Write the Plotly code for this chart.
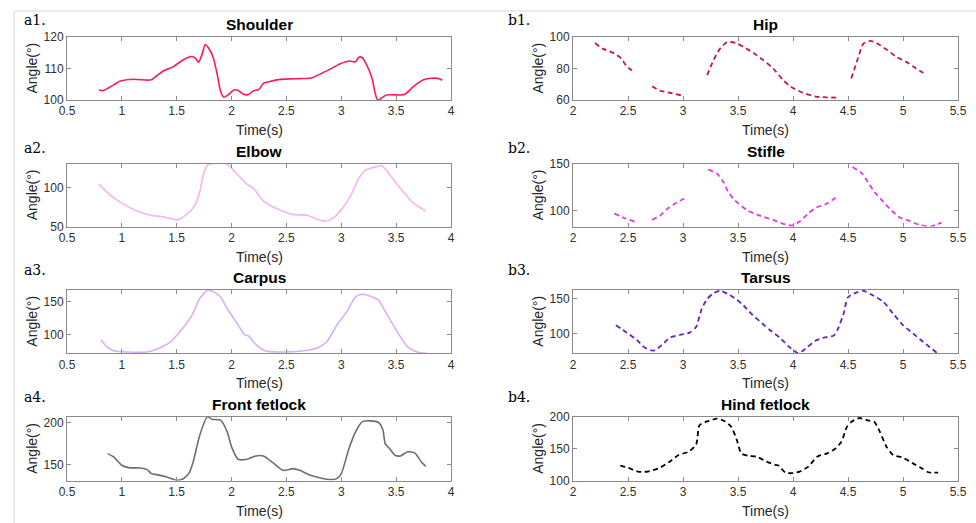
import plotly.graph_objects as go

W, H = 976, 523

# ---------------- data ----------------
t_shoulder = [0.79, 0.83, 0.925, 0.986, 1.107, 1.23, 1.27, 1.32, 1.38, 1.47, 1.56, 1.64, 1.67, 1.70,
              1.73, 1.76, 1.79, 1.83, 1.87, 1.90, 1.93, 1.97, 2.02, 2.06, 2.11, 2.15, 2.20, 2.25,
              2.29, 2.35, 2.41, 2.53, 2.62, 2.73, 2.81, 2.90, 2.99, 3.08, 3.13, 3.16, 3.19, 3.23,
              3.28, 3.31, 3.33, 3.35, 3.41, 3.54, 3.58, 3.66, 3.75, 3.82, 3.90, 3.92]
shoulder = [103.2, 103.0, 104.8, 106.0, 106.6, 106.3, 106.4, 107.7, 109.3, 110.6, 112.8, 113.8, 113.3, 112.0,
            114.4, 117.6, 116.5, 113.8, 108.0, 102.7, 100.9, 101.6, 103.2, 103.0, 101.8, 101.7, 102.9, 103.4,
            105.3, 105.9, 106.4, 106.7, 106.8, 107.0, 108.3, 109.8, 111.5, 112.4, 112.1, 113.6, 113.5, 111.2,
            106.9, 102.0, 100.0, 100.2, 101.6, 101.6, 101.8, 104.3, 106.4, 106.9, 106.7, 106.2]

t_elbow = [0.79, 0.895, 1.016, 1.14, 1.26, 1.38, 1.50, 1.55, 1.64, 1.68, 1.71, 1.75, 1.79, 1.87, 1.96,
           2.03, 2.14, 2.20, 2.29, 2.41, 2.56, 2.69, 2.76, 2.85, 2.91, 2.99, 3.08, 3.16, 3.22, 3.32,
           3.37, 3.44, 3.54, 3.66, 3.77]
elbow = [104.3, 90.2, 78.6, 69.7, 64.5, 62.4, 58.5, 61.1, 72.2, 80.8, 94.4, 120.0, 129.5, 131.0, 130.0,
         120.0, 104.3, 98.7, 82.5, 73.0, 65.4, 64.5, 60.3, 56.8, 59.4, 69.7, 88.0, 111.5, 122.2, 126.5,
         127.8, 116.7, 98.7, 79.5, 69.7]

t_carpus = [0.81, 0.86, 0.925, 1.046, 1.23, 1.32, 1.44, 1.53, 1.64, 1.71, 1.78, 1.84, 1.90, 1.96, 2.05,
            2.12, 2.15, 2.23, 2.32, 2.47, 2.62, 2.78, 2.87, 2.96, 3.05, 3.13, 3.19, 3.26, 3.34, 3.41,
            3.50, 3.60, 3.69, 3.78]
carpus = [92.5, 82.5, 76.0, 74.0, 74.0, 78.5, 89.0, 105.0, 130.0, 155.0, 167.5, 165.0, 157.5, 140.0, 117.5,
          100.0, 99.0, 84.0, 75.0, 74.0, 75.0, 80.0, 90.0, 115.0, 135.0, 157.5, 161.5, 159.0, 152.5, 132.5,
          107.5, 82.5, 74.0, 72.0]

t_ffetlock = [0.87, 0.925, 1.00, 1.06, 1.17, 1.23, 1.27, 1.32, 1.41, 1.50, 1.55, 1.61, 1.65, 1.71, 1.78,
              1.82, 1.90, 1.96, 2.00, 2.06, 2.14, 2.22, 2.29, 2.38, 2.47, 2.56, 2.62, 2.72, 2.81, 2.90,
              2.96, 3.00, 3.07, 3.13, 3.19, 3.26, 3.34, 3.38, 3.40, 3.44, 3.49, 3.54, 3.60, 3.67, 3.73, 3.77]
ffetlock = [163.2, 159.2, 149.2, 146.4, 146.0, 144.0, 139.2, 138.0, 135.2, 131.2, 132.4, 139.2, 153.2, 185.2, 207.2,
            204.4, 203.2, 189.2, 171.2, 156.4, 156.4, 160.4, 160.4, 152.0, 143.2, 145.2, 143.2, 137.2, 134.0, 132.0,
            133.2, 139.2, 169.2, 189.2, 201.2, 202.4, 200.4, 191.2, 175.2, 169.2, 161.2, 160.4, 165.2, 164.0, 153.2, 148.0]

t_hip = [2.20, 2.27, 2.36, 2.44, 2.48, 2.56, 2.64,
         2.72, 2.79, 2.88, 3.00, 3.11,
         3.22, 3.27, 3.33, 3.40, 3.48, 3.55, 3.64, 3.73, 3.82, 3.91, 3.98, 4.09, 4.21, 4.41, 4.47,
         4.53, 4.58, 4.64, 4.70, 4.76, 4.85, 4.94, 5.03, 5.12, 5.20]
hip = [96.2, 92.6, 90.1, 86.3, 82.1, 77.3, None,
       68.8, 65.9, 64.6, 62.7, None,
       75.8, 84.2, 92.0, 96.8, 96.2, 93.7, 89.9, 85.3, 80.0, 72.6, 68.4, 64.6, 62.1, 61.5, None,
       73.7, 84.2, 95.8, 97.5, 96.2, 92.0, 87.4, 84.2, 80.0, 76.4]

t_stifle = [2.376, 2.47, 2.56, 2.64,
            2.72, 2.79, 2.87, 2.94, 3.03, 3.13,
            3.23, 3.31, 3.37, 3.41, 3.47, 3.58, 3.70, 3.82, 3.91, 3.99, 4.06, 4.14, 4.21, 4.31, 4.41, 4.47,
            4.54, 4.62, 4.68, 4.74, 4.82, 4.90, 4.97, 5.06, 5.15, 5.25, 5.35]
stifle = [97.5, 92.3, 88.7, None,
          90.5, 95.0, 103.5, 108.8, 114.0, None,
          144.0, 139.8, 130.3, 120.4, 111.6, 101.0, 95.0, 90.5, 86.3, 84.5, 88.7, 97.5, 103.5, 108.0, 115.8, None,
          146.8, 140.8, 131.0, 120.4, 109.9, 100.0, 93.0, 89.4, 85.2, 83.5, 87.7]

t_tarsus = [2.39, 2.49, 2.58, 2.65, 2.73, 2.81, 2.88, 2.97, 3.06, 3.12, 3.17, 3.22, 3.28, 3.34, 3.41,
            3.49, 3.55, 3.62, 3.72, 3.79, 3.88, 3.96, 4.05, 4.11, 4.20, 4.28, 4.37, 4.41, 4.46, 4.50,
            4.58, 4.64, 4.72, 4.82, 4.91, 5.00, 5.09, 5.18, 5.31]
tarsus = [111.9, 101.0, 90.5, 79.5, 74.8, 83.3, 93.8, 97.6, 101.0, 109.5, 135.7, 150.0, 158.6, 161.9, 157.0,
          149.0, 140.5, 128.6, 114.3, 104.8, 93.8, 81.0, 71.0, 77.1, 89.0, 93.8, 96.7, 107.0, 128.6, 152.4,
          159.5, 161.9, 155.7, 146.2, 128.6, 111.9, 100.0, 88.1, 71.4]

t_hfetlock = [2.43, 2.50, 2.59, 2.68, 2.78, 2.87, 2.96, 3.05, 3.12, 3.15, 3.22, 3.31, 3.38, 3.44, 3.49,
              3.53, 3.59, 3.67, 3.76, 3.84, 3.87, 3.93, 3.99, 4.06, 4.14, 4.22, 4.31, 4.38, 4.44, 4.49,
              4.53, 4.60, 4.68, 4.74, 4.79, 4.85, 4.91, 5.00, 5.09, 5.17, 5.23, 5.32]
hfetlock = [123.4, 120.3, 114.1, 114.1, 119.3, 128.6, 140.1, 145.3, 156.8, 187.0, 193.2, 197.4, 193.2, 184.4, 163.5,
            142.7, 139.1, 137.5, 129.7, 124.5, 123.4, 112.5, 111.5, 114.1, 121.9, 137.5, 142.7, 149.5, 161.0, 184.4,
            192.2, 198.4, 194.8, 192.2, 176.6, 153.1, 140.1, 135.9, 127.0, 119.3, 113.0, 112.5]

panel_labels = ["a1.", "a2.", "a3.", "a4.", "b1.", "b2.", "b3.", "b4."]
titles = ["Shoulder", "Elbow", "Carpus", "Front fetlock", "Hip", "Stifle", "Tarsus", "Hind fetlock"]
y_ranges = [[100, 120], [50, 130], [72, 168], [131, 207], [60, 100], [83.5, 150], [71, 163], [100, 200]]
y_dticks = [10, 50, 50, 50, 20, 50, 50, 50]
x_ranges = [[0.5, 4]] * 4 + [[2, 5.5]] * 4

series_t = [t_shoulder, t_elbow, t_carpus, t_ffetlock, t_hip, t_stifle, t_tarsus, t_hfetlock]
series_v = [shoulder, elbow, carpus, ffetlock, hip, stifle, tarsus, hfetlock]
colors = ["#fb1a5a", "#f5b4f2", "#d9b0f5", "#6e6e6e", "#c8154f", "#df3be0", "#6a1fc0", "#000000"]
dashed = [False, False, False, False, True, True, True, True]

# ---------------- layout geometry (pixels) ----------------
col_x = [(67, 451), (573, 958)]
row_y = [(37, 100), (164, 226.5), (290, 353.3), (417, 480.5)]

def px(x):
    return x / W

def py(y):
    return 1 - y / H

fig = go.Figure()
layout = dict(template="none", width=W, height=H, autosize=False,
              margin=dict(l=0, r=0, t=0, b=0, pad=0),
              paper_bgcolor="white", plot_bgcolor="white", showlegend=False)
annotations = []
axis_col = "#8a8a8a"
FONT = "Liberation Sans, Arial, sans-serif"
tick_font = dict(family=FONT, size=12, color="#303030")

for i in range(8):
    c = i // 4
    r = i % 4
    x0, x1 = col_x[c]
    y0, y1 = row_y[r]
    n = i + 1
    xa = "x" if n == 1 else f"x{n}"
    ya = "y" if n == 1 else f"y{n}"
    line = dict(color=colors[i], width=1.8 if dashed[i] else 1.6, shape="spline", smoothing=0.6)
    if dashed[i]:
        line["dash"] = "5px,3.5px"
    fig.add_trace(go.Scatter(x=series_t[i], y=series_v[i], mode="lines", line=line,
                             connectgaps=False, xaxis=xa, yaxis=ya, hoverinfo="x+y"))
    common = dict(showline=True, linecolor=axis_col, linewidth=1, mirror="ticks",
                  ticks="inside", ticklen=4, tickcolor=axis_col, tickwidth=1,
                  showgrid=False, zeroline=False, tickfont=tick_font, automargin=False)
    layout["xaxis" if n == 1 else f"xaxis{n}"] = dict(
        domain=[px(x0), px(x1)], anchor=ya, range=x_ranges[i], dtick=0.5, tick0=0,
        **common)
    layout["yaxis" if n == 1 else f"yaxis{n}"] = dict(
        domain=[py(y1), py(y0)], anchor=xa, range=y_ranges[i], dtick=y_dticks[i], tick0=0,
        **common)
    cx = (x0 + x1) / 2
    # subplot title
    annotations.append(dict(text=f"<b>{titles[i]}</b>", x=px(cx), y=py(y0 - 13), xref="paper", yref="paper",
                            showarrow=False, xanchor="center", yanchor="middle",
                            font=dict(family=FONT, size=15.5, color="#000000")))
    # x-axis title
    annotations.append(dict(text="Time(s)", x=px(cx), y=py(y1 + 30), xref="paper", yref="paper",
                            showarrow=False, xanchor="center", yanchor="middle",
                            font=dict(family=FONT, size=14, color="#262626")))
    # y-axis title
    annotations.append(dict(text="Angle(°)", x=px(x0 - 35), y=py((y0 + y1) / 2), xref="paper", yref="paper",
                            showarrow=False, xanchor="center", yanchor="middle", textangle=-90,
                            font=dict(family=FONT, size=14, color="#262626")))
    # panel label
    lx = 22 if c == 0 else 506
    ly = [20, 148, 270, 397][r]
    annotations.append(dict(text=panel_labels[i], x=px(lx), y=py(ly), xref="paper", yref="paper",
                            showarrow=False, xanchor="left", yanchor="middle",
                            font=dict(family="DejaVu Serif, Liberation Serif, serif", size=14, color="#000000")))

layout["annotations"] = annotations
layout["shapes"] = [
    dict(type="line", xref="paper", yref="paper", x0=px(14), x1=1, y0=py(11), y1=py(11),
         line=dict(color="#d8d8d8", width=1)),
    dict(type="line", xref="paper", yref="paper", x0=px(14), x1=px(14), y0=py(11), y1=0,
         line=dict(color="#d8d8d8", width=1)),
]
fig.update_layout(**layout)
fig.write_html("out.html", config={"displayModeBar": False},
               post_script="document.body.style.margin='0px';document.body.style.overflow='hidden';")
